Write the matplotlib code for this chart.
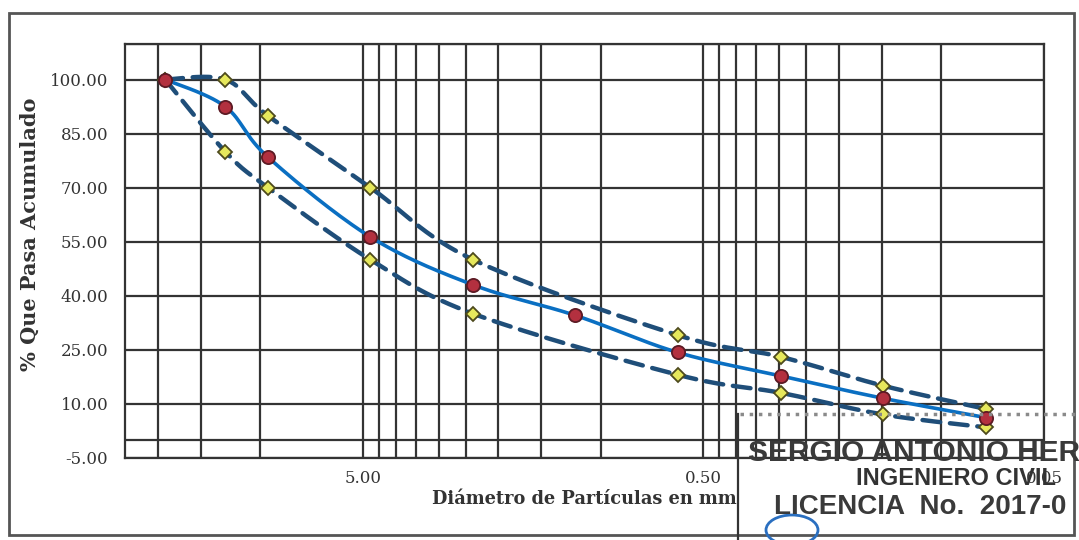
import numpy as np
import matplotlib
matplotlib.use("Agg")
import matplotlib.pyplot as plt
from matplotlib.patches import Rectangle, Ellipse
from matplotlib.ticker import FixedLocator, FuncFormatter

# sieve openings (mm) and % passing
diametro = [19.05, 12.7, 9.525, 4.76, 2.38, 1.19, 0.595, 0.297, 0.149, 0.074]
pasa = [100.0, 92.5, 78.5, 56.3, 43.0, 34.5, 24.2, 17.7, 11.5, 6.1]

# specification limits (no limit on 1.19 mm)
diam_lim = [19.05, 12.7, 9.525, 4.76, 2.38, 0.595, 0.297, 0.149, 0.074]
lim_sup = [100, 100, 90, 70, 50, 29, 23, 15, 8.5]
lim_inf = [100, 80, 70, 50, 35, 18, 13, 7, 3.4]

y_ticks = [-5, 10, 25, 40, 55, 70, 85, 100]
y_grid = [0, 110]
x_ticks = [5, 0.5, 0.05]


def suave(xs, ys, n=30):
    # smooth curve like excel (catmull-rom bezier in log-x / y space)
    p = np.column_stack([np.log10(xs), ys])
    out = []
    for i in range(len(p) - 1):
        p0 = p[max(i - 1, 0)]
        p1 = p[i]
        p2 = p[i + 1]
        p3 = p[min(i + 2, len(p) - 1)]
        c1 = p1 + (p2 - p0) / 6
        c2 = p2 - (p3 - p1) / 6
        t = np.linspace(0, 1, n)[:, None]
        b = (1 - t)**3 * p1 + 3 * (1 - t)**2 * t * c1 + 3 * (1 - t) * t**2 * c2 + t**3 * p2
        out.append(b if i == 0 else b[1:])
    out = np.vstack(out)
    return 10**out[:, 0], out[:, 1]


W, H = 1079, 540
fig = plt.figure(figsize=(W / 100, H / 100), dpi=100)
ax = fig.add_axes([125 / W, 1 - 457.6 / H, (1044 - 125) / W, (457.6 - 43.5) / H])

ax.set_xscale("log")
ax.set_xlim(25, 0.05)
ax.set_ylim(-5, 110)

minors = [5 * 10.0**k * m for k in (-2, -1, 0) for m in range(2, 10)]
minors = [v for v in minors if v < 25]
ax.xaxis.set_major_locator(FixedLocator(x_ticks))
ax.xaxis.set_minor_locator(FixedLocator(minors))
ax.xaxis.set_major_formatter(FuncFormatter(lambda v, p: "%.2f" % v))
ax.xaxis.set_minor_formatter(FuncFormatter(lambda v, p: ""))
ax.set_yticks(y_ticks)
ax.yaxis.set_major_formatter(FuncFormatter(lambda v, p: "%.2f" % v))

gcol = "#333333"
ax.grid(which="both", axis="x", color=gcol, lw=1.6)
ax.grid(which="major", axis="y", color=gcol, lw=1.6)
for g in y_grid:
    ax.axhline(g, color=gcol, lw=1.6)
for s in ax.spines.values():
    s.set_color(gcol)
    s.set_linewidth(1.6)
ax.tick_params(which="both", length=0)
ax.tick_params(axis="y", pad=12)
ax.tick_params(axis="x", pad=9)
for lab in ax.get_xticklabels() + ax.get_yticklabels():
    lab.set_fontfamily("DejaVu Serif")
    lab.set_fontsize(12)
    lab.set_color("#333333")

dcol = "#1f4e79"
for lim in (lim_sup, lim_inf):
    sx, sy = suave(diam_lim, lim)
    ax.plot(sx, sy, color=dcol, lw=3.2, ls=(0, (4, 2.2)), dash_capstyle="round", zorder=3)
sx, sy = suave(diametro, pasa)
ax.plot(sx, sy, color="#0a6fc2", lw=2.6, zorder=4)

for lim in (lim_sup, lim_inf):
    ax.plot(diam_lim, lim, ls="none", marker="D", ms=7, mfc="#e6e85c",
            mec="#4d4a1c", mew=1.3, zorder=5)
ax.plot(diametro, pasa, ls="none", marker="o", ms=9.5, mfc="#b3303f",
        mec="#5c1a24", mew=1.3, zorder=6)

fig.text(30 / W, 1 - 234 / H, "% Que Pasa Acumulado", rotation=90, ha="center",
         va="center", family="DejaVu Serif", weight="bold", size=15, color="#333333")
fig.text(584 / W, 1 - 499 / H, "Diámetro de Partículas en mm", ha="center",
         va="center", family="DejaVu Serif", weight="bold", size=12.8, color="#333333")

# outer chart frame
fig.patches.append(Rectangle((9 / W, 1 - 535 / H), (1074 - 9) / W, (535 - 13) / H,
                             transform=fig.transFigure, fill=False, ec="#555555", lw=2))

# engineer stamp over the corner
fig.lines.append(plt.Line2D([740 / W, 1], [1 - 414 / H] * 2, transform=fig.transFigure,
                            color="#8a8a8a", lw=2.5, ls=":", zorder=7))
fig.lines.append(plt.Line2D([738 / W] * 2, [0, 1 - 414 / H], transform=fig.transFigure,
                            color="#333333", lw=1.6, zorder=7))
fig.text(748 / W, 1 - 461 / H, "SERGIO ANTONIO HERNANDEZ", family="Liberation Sans",
         weight="bold", size=21.5, color="#3a3a3a", zorder=8)
fig.text(856 / W, 1 - 485 / H, "INGENIERO CIVIL", family="Liberation Sans",
         weight="bold", size=17, color="#333333", zorder=8)
fig.text(774 / W, 1 - 514 / H, "LICENCIA  No.  2017-0", family="Liberation Sans",
         weight="bold", size=20, color="#3a3a3a", zorder=8)
fig.patches.append(Ellipse((792 / W, 1 - 530 / H), 52 / W, 30 / H, transform=fig.transFigure,
                           fill=False, ec="#2a6fc0", lw=2, zorder=8))

fig.savefig("out.png", dpi=100, facecolor="white")
